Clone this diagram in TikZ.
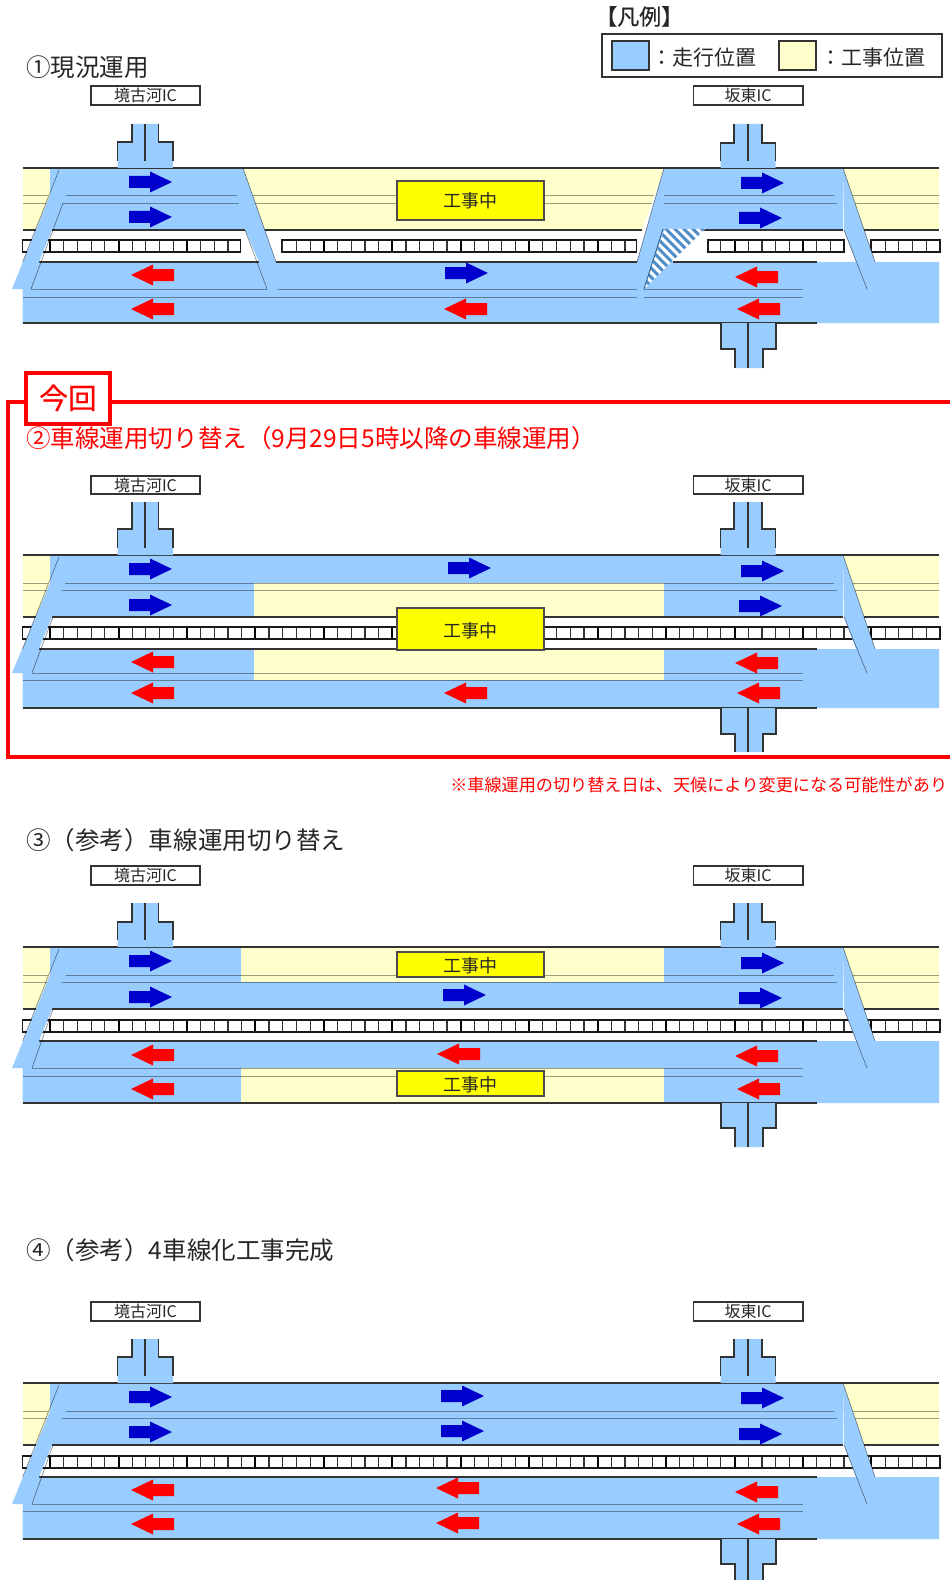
\documentclass[tikz,border=0pt]{standalone}
\usepackage{fontspec}
\setmainfont[Kerning=Off]{Noto Sans CJK JP}
\definecolor{laneblue}{HTML}{99CCFF}
\definecolor{workyellow}{HTML}{FFFFCC}
\definecolor{boxyellow}{HTML}{FFFF00}
\definecolor{arrowblue}{HTML}{0000CC}
\definecolor{inkdark}{HTML}{333333}
\definecolor{hatchblue}{HTML}{4F8FC8}
\newcommand{\fs}[1]{\fontsize{#1}{#1}\selectfont}
\tikzset{
  x=0.75pt,y=-0.75pt,
  edgeline/.style={draw=inkdark,line width=1.1pt},
  laneline/.style={draw=black,draw opacity=.38,line width=.6pt},
  slantline/.style={draw=black,draw opacity=.5,line width=.45pt},
  stubline/.style={draw=inkdark,line width=1.1pt},
  railthin/.style={draw=black!80,line width=.9pt},
  railthick/.style={draw=black,line width=1.5pt},
  railbox/.style={draw=black!90,line width=1pt},
  icbox/.style={draw=inkdark,fill=white,line width=1pt},
  worksign/.style={draw=black!70,fill=boxyellow,line width=.8pt},
  legendbox/.style={draw=inkdark,line width=1.2pt},
  swatch/.style={draw=inkdark,line width=1.1pt},
  txt/.style={inner sep=0pt,text=black!85},
}
\newcommand{\Rows}[9]{\def\rT{#1}\def\rA{#2}\def\rB{#3}\def\rC{#4}\def\rD{#5}\def\rE{#6}\def\rF{#7}\def\rG{#8}\def\rH{#9}}
\newcommand{\RailSeg}[2]{%
  \fill[white] (#1,\rD) rectangle (#2,\rE);
  \begin{scope}
    \clip (#1,\rD) rectangle (#2,\rE);
    \foreach \k in {0,...,68}{
      \pgfmathtruncatemacro\mm{mod(\k+3,5)}
      \pgfmathsetmacro\xx{22.67+13.69*\k}
      \ifnum\mm=0 \draw[railthick] (\xx,\rD) -- (\xx,\rE);
      \else \draw[railthin] (\xx,\rD) -- (\xx,\rE); \fi
    }
  \end{scope}
  \draw[railbox] (#1,\rD) rectangle (#2,\rE);
}
\newcommand{\BlueArrow}[2]{\fill[arrowblue] (#1,#2-6) -- ++(21,0) -- ++(0,-4.5) -- (#1+43,#2) -- (#1+21,#2+10.5) -- ++(0,-4.5) -- (#1,#2+6) -- cycle;}
\newcommand{\RedArrow}[2]{\fill[red] (#1,#2) -- (#1+22,#2-10.5) -- ++(0,4.5) -- (#1+43,#2-6) -- ++(0,12) -- (#1+22,#2+6) -- ++(0,4.5) -- cycle;}
\newcommand{\UpStub}[6]{%
  \fill[laneblue] (#1-#3,#4) -- (#1+#3,#4) -- (#1+#3,#5) -- (#1+#2,#5) -- (#1+#2,\rT) -- (#1-#2,\rT) -- (#1-#2,#5) -- (#1-#3,#5) -- cycle;
  \draw[stubline] (#1-#3,#4) -- (#1-#3,#5) -- (#1-#2,#5) -- (#1-#2,#6);
  \draw[stubline] (#1+#3,#4) -- (#1+#3,#5) -- (#1+#2,#5) -- (#1+#2,#6);
  \draw[stubline] (#1,#4) -- (#1,#6);
}
\newcommand{\DownStub}[2]{%
  \fill[laneblue] (721,\rI) -- (776,\rI) -- (776,#1) -- (763,#1) -- (763,#2) -- (735,#2) -- (735,#1) -- (721,#1) -- cycle;
  \draw[stubline] (721,\rI) -- (721,#1) -- (735,#1) -- (735,#2);
  \draw[stubline] (776,\rI) -- (776,#1) -- (763,#1) -- (763,#2);
  \draw[stubline] (748,\rI) -- (748,#2);
}
\newcommand{\ICLabels}[2]{%
  \draw[icbox] (91,#1) rectangle (200,#2);
  \draw[icbox] (693.5,#1) rectangle (803,#2);
  \node[txt] at (145.5,{(#1+#2)/2}) {\fs{12pt}境古河IC};
  \node[txt] at (748,{(#1+#2)/2}) {\fs{12pt}坂東IC};
}
\newcommand{\OuterBase}{%
  \fill[workyellow] (22.67,\rT) rectangle (50,\rC);
  \fill[workyellow] (843,\rT) -- (939,\rT) -- (939,\rC) -- (863,\rC) -- cycle;
  \draw[laneline] (22.67,\rA) -- (48,\rA) (22.67,\rB) -- (47,\rB);
  \draw[laneline] (853,\rA) -- (939,\rA) (855,\rB) -- (939,\rB);
}
\newcommand{\OuterTop}{%
  \fill[laneblue] (50,\rA) -- (12,\rG) -- (39,\rG) -- (39,\rF) -- (52,\rC) -- (52,\rA) -- cycle;
  \fill[laneblue] (843,\rT) -- (875,\rF) -- (875,\rG) -- (856,\rG) -- (856,\rF) -- (844,\rC) -- cycle;
  \draw[slantline] (59,\rT+2) -- (22.67,\rF);
  \draw[slantline] (843,\rT) -- (875,\rF);
  \draw[slantline] (844,\rC) -- (867,\rG);
  \draw[edgeline] (22.67,\rT) -- (939,\rT);
  \draw[edgeline] (22.67,\rI) -- (817,\rI);
}
\begin{document}
\begin{tikzpicture}
\useasboundingbox (0,0) rectangle (949,1580);
\fill[white] (0,0) rectangle (949,1580);

% ---------- legend
\node[txt,anchor=west] (legendtitle) at (595,16.5) {\fs{16.5pt}\addfontfeatures{FakeBold=0.4}【凡例】};
\draw[legendbox] (602,34) rectangle (942,77);
\draw[swatch,fill=laneblue] (612,41) rectangle (649,70);
\draw[swatch,fill=workyellow] (779,41) rectangle (816,70);
\node[txt,anchor=west] (legendrun) at (651,58) {\fs{15.75pt}：走行位置};
\node[txt,anchor=west] (legendwork) at (820,58) {\fs{15.75pt}：工事位置};

% ---------- panel 1
\node[txt,anchor=west] (title1) at (26,67) {\fs{18.4pt}①現況運用};
\Rows{168}{195}{203}{230}{240}{252}{262}{289}{297}\def\rI{323}
\OuterBase
\fill[laneblue] (50,\rT) -- (243,\rT) -- (265,\rC) -- (50,\rC) -- cycle;
\fill[workyellow] (243,\rT) -- (664,\rT) -- (642,\rC) -- (265,\rC) -- cycle;
\fill[laneblue] (664,\rT) -- (843,\rT) -- (843,\rC) -- (664,\rC) -- cycle;
\fill[laneblue] (39,\rF) -- (939,\rF) -- (939,\rI) -- (22.67,\rI) -- (22.67,\rG) -- (39,\rG) -- cycle;
\draw[laneline] (66,\rA) -- (237,\rA) (63,\rB) -- (239,\rB);
\draw[laneline] (253,\rA) -- (654,\rA) (255,\rB) -- (652,\rB);
\draw[laneline] (663,\rA) -- (834,\rA) (663,\rB) -- (837,\rB);
\draw[laneline] (31,\rG) -- (267,\rG) (278,\rG) -- (637,\rG) (644,\rG) -- (803,\rG);
\draw[laneline] (22.67,\rH) -- (637,\rH) (644,\rH) -- (803,\rH);
\draw[edgeline] (22.67,\rC) -- (36,\rC) (52,\rC) -- (265,\rC) (265,\rC) -- (642,\rC) (663,\rC) -- (843,\rC) (863,\rC) -- (939,\rC);
\draw[edgeline] (39,\rF) -- (259,\rF) (276,\rF) -- (637,\rF) (673,\rF) -- (817,\rF);
\RailSeg{22.67}{240.7}
\RailSeg{281.7}{636.7}
\RailSeg{708}{844}
\RailSeg{871}{940}
\begin{scope}
  \clip (663,229) -- (705,229) -- (644,289) -- cycle;
  \fill[white] (630,220) rectangle (710,295);
  \foreach \h in {540,549,...,720}{\draw[hatchblue,line width=2.2pt] (\h,220) -- (\h+80,300);}
\end{scope}
\fill[laneblue] (243,\rT) -- (276,\rF) -- (259,\rF) -- (245,\rC) -- cycle;
\fill[laneblue] (664,\rT) -- (637,\rF) -- (653,\rF) -- (664,\rC) -- cycle;
\draw[slantline] (243,\rT) -- (276,\rF);
\draw[slantline] (245,\rC) -- (267,\rG);
\draw[slantline] (664,\rT) -- (637,\rF);
\draw[draw=hatchblue!70!black,line width=.7pt] (663,229) -- (644,289);
\OuterTop
\draw[slantline] (63,\rB) -- (31,\rG);
\draw[worksign] (397,181) rectangle (544,220);
\node[txt] (work1) at (470.5,201) {\fs{13.5pt}工事中};
\UpStub{145.2}{27.7}{13.3}{124}{142}{161}
\UpStub{748}{27.5}{14}{124}{143}{161}
\DownStub{349}{368}
\ICLabels{86}{105}
\BlueArrow{129}{182}\BlueArrow{129}{217}\RedArrow{131}{275}\RedArrow{131}{309}
\BlueArrow{445}{273}\RedArrow{444}{309}
\BlueArrow{741}{183}\BlueArrow{739}{218}\RedArrow{735}{277}\RedArrow{737}{309}

% ---------- panel 2
\draw[red,line width=3pt] (960,402) -- (8,402) -- (8,757) -- (960,757);
\draw[red,fill=white,line width=2.4pt] (26,373) rectangle (110,424);
\node[txt,text=red] (now) at (68,398) {\fs{21.5pt}\addfontfeatures{FakeBold=0.6}今回};
\node[txt,text=red,anchor=west] (title2) at (26,438) {\fs{18.4pt}②車線運用切り替え（9月29日5時以降の車線運用）};
\Rows{555}{583}{590}{617}{627}{639}{649}{673}{680}\def\rI{708}
\OuterBase
\fill[laneblue] (50,\rT) rectangle (843,\rC);
\fill[laneblue] (39,\rF) -- (939,\rF) -- (939,\rI) -- (22.67,\rI) -- (22.67,\rG) -- (39,\rG) -- cycle;
\fill[workyellow] (254,\rA) rectangle (664,\rC);
\fill[workyellow] (254,\rF) rectangle (664,\rH);
\draw[laneline] (65,\rA) -- (834,\rA) (62,\rB) -- (837,\rB);
\draw[laneline] (32,\rG) -- (803,\rG) (22.67,\rH) -- (803,\rH);
\draw[edgeline] (22.67,\rC) -- (36,\rC) (52,\rC) -- (843,\rC) (863,\rC) -- (939,\rC);
\draw[edgeline] (39,\rF) -- (817,\rF);
\RailSeg{22.67}{940}
\OuterTop
\draw[slantline] (53,\rC) -- (32,\rG);
\draw[worksign] (397,608) rectangle (544,650);
\node[txt] (work2) at (470.5,630.5) {\fs{13.5pt}工事中};
\UpStub{145.2}{27.7}{13.3}{502}{529}{548}
\UpStub{748}{27.5}{14}{502}{529}{548}
\DownStub{734}{752}
\ICLabels{476}{494}
\BlueArrow{129}{569}\BlueArrow{129}{605}\RedArrow{131}{662}\RedArrow{131}{693}
\BlueArrow{448}{568}\RedArrow{444}{693}
\BlueArrow{741}{571}\BlueArrow{739}{606}\RedArrow{735}{663}\RedArrow{737}{693}
\node[txt,text=red,anchor=west] (note) at (450,785) {\fs{12.85pt}※車線運用の切り替え日は、天候により変更になる可能性があり};

% ---------- panel 3
\node[txt,anchor=west] (title3) at (26,840) {\fs{18.4pt}③（参考）車線運用切り替え};
\Rows{947}{975}{982}{1009}{1020}{1032}{1041}{1068}{1076}\def\rI{1103}
\OuterBase
\fill[laneblue] (50,\rT) rectangle (843,\rC);
\fill[laneblue] (39,\rF) -- (939,\rF) -- (939,\rI) -- (22.67,\rI) -- (22.67,\rG) -- (39,\rG) -- cycle;
\fill[workyellow] (241,\rT) rectangle (664,\rB);
\fill[workyellow] (241,\rG) rectangle (664,\rI);
\draw[laneline] (66,\rA) -- (834,\rA) (62,\rB) -- (837,\rB);
\draw[laneline] (32,\rG) -- (803,\rG) (22.67,\rH) -- (803,\rH);
\draw[edgeline] (22.67,\rC) -- (36,\rC) (52,\rC) -- (843,\rC) (863,\rC) -- (939,\rC);
\draw[edgeline] (39,\rF) -- (817,\rF);
\RailSeg{22.67}{940}
\OuterTop
\draw[slantline] (53,\rC) -- (32,\rG);
\draw[worksign] (397,952) rectangle (544,977);
\node[txt] (work3) at (470.5,965.5) {\fs{13.5pt}工事中};
\draw[worksign] (397,1071) rectangle (544,1096);
\node[txt] (work4) at (470.5,1084.5) {\fs{13.5pt}工事中};
\UpStub{145.2}{27.7}{13.3}{903}{922}{940}
\UpStub{748}{27.5}{14}{903}{922}{940}
\DownStub{1128}{1147}
\ICLabels{866}{885}
\BlueArrow{129}{961}\BlueArrow{129}{997}\RedArrow{131}{1055}\RedArrow{131}{1089}
\BlueArrow{443}{995}\RedArrow{437}{1054}
\BlueArrow{741}{963}\BlueArrow{739}{998}\RedArrow{735}{1056}\RedArrow{737}{1089}

% ---------- panel 4
\node[txt,anchor=west] (title4) at (26,1250) {\fs{18.4pt}④（参考）4車線化工事完成};
\Rows{1383}{1411}{1418}{1445}{1456}{1468}{1477}{1504}{1511}\def\rI{1539}
\OuterBase
\fill[laneblue] (50,\rT) rectangle (843,\rC);
\fill[laneblue] (39,\rF) -- (939,\rF) -- (939,\rI) -- (22.67,\rI) -- (22.67,\rG) -- (39,\rG) -- cycle;
\draw[laneline] (66,\rA) -- (834,\rA) (62,\rB) -- (837,\rB);
\draw[laneline] (32,\rG) -- (803,\rG) (22.67,\rH) -- (803,\rH);
\draw[edgeline] (22.67,\rC) -- (36,\rC) (52,\rC) -- (843,\rC) (863,\rC) -- (939,\rC);
\draw[edgeline] (39,\rF) -- (817,\rF);
\RailSeg{22.67}{940}
\OuterTop
\draw[slantline] (53,\rC) -- (32,\rG);
\UpStub{145.2}{27.7}{13.3}{1339}{1357}{1376}
\UpStub{748}{27.5}{14}{1339}{1357}{1376}
\DownStub{1564}{1585}
\ICLabels{1302}{1321}
\BlueArrow{129}{1397}\BlueArrow{129}{1432}\RedArrow{131}{1490}\RedArrow{131}{1524}
\BlueArrow{441}{1396}\BlueArrow{441}{1431}\RedArrow{436}{1488}\RedArrow{436}{1523}
\BlueArrow{741}{1398}\BlueArrow{739}{1434}\RedArrow{735}{1492}\RedArrow{737}{1524}
\end{tikzpicture}
\end{document}
